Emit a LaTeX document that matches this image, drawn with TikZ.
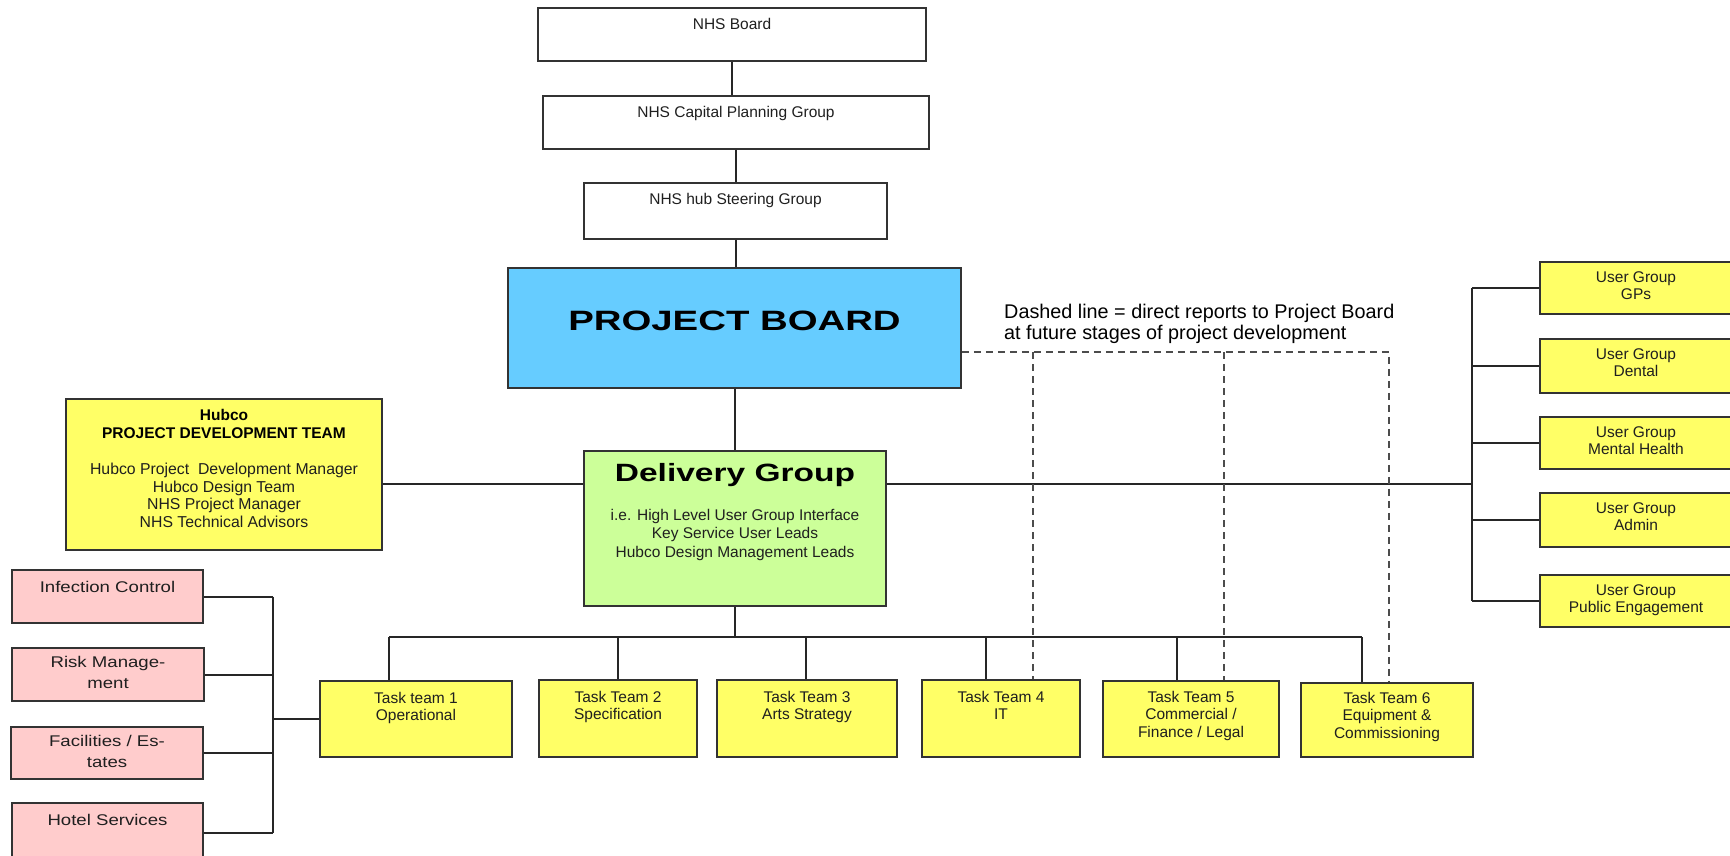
\documentclass[tikz,border=0pt]{standalone}
\usepackage{fontspec}
\setmainfont{Liberation Sans}
\usetikzlibrary{calc}
\definecolor{pbblue}{HTML}{66CCFF}
\definecolor{dggreen}{HTML}{CCFF99}
\definecolor{tyellow}{HTML}{FFFF66}
\definecolor{pinkbox}{HTML}{FFCCCC}
\definecolor{edgec}{HTML}{333333}
\newcommand{\orgbox}[6]{\node[#1, minimum width={#4-#2}, minimum height={#5-#3}] (#6) at ({(#2+#4)/2},{(#3+#5)/2}) {};}
\begin{document}
\begin{tikzpicture}[x=1pt,y=-1pt,
  box/.style={draw=edgec, line width=1.7pt, inner sep=0pt},
  wbox/.style={box, fill=white},
  ybox/.style={box, fill=tyellow},
  pbox/.style={box, fill=pinkbox},
  txt/.style={font=\fontsize{15.5}{17.5}\selectfont, align=center, inner sep=0pt, anchor=north, text=black!88},
  ptxt/.style={txt, font=\fontsize{15.5}{20.5}\selectfont},
  conn/.style={line width=2pt, draw=black!85},
  dashln/.style={line width=1.7pt, draw=black!70, dash pattern=on 7pt off 5pt}
]
\clip (0,0) rectangle (1730,856);
\fill[white] (0,0) rectangle (1730,856);

% boxes
\orgbox{wbox}{538}{8}{926}{61}{nhsb}
\orgbox{wbox}{543}{96}{929}{149}{cpg}
\orgbox{wbox}{584}{183}{887}{239}{hub}
\orgbox{box,fill=pbblue}{508}{268}{961}{388}{pb}
\orgbox{box,fill=dggreen}{584}{451}{886}{606}{dg}
\orgbox{ybox}{66}{399}{382}{550}{hubco}
\orgbox{pbox}{12}{570}{203}{623}{ic}
\orgbox{pbox}{12}{648}{204}{701}{rm}
\orgbox{pbox}{11}{727}{203}{779}{fe}
\orgbox{pbox}{12}{803}{203}{863}{hs}
\orgbox{ybox}{320}{681}{512}{757}{tt1}
\orgbox{ybox}{539}{680}{697}{757}{tt2}
\orgbox{ybox}{717}{680}{897}{757}{tt3}
\orgbox{ybox}{922}{680}{1080}{757}{tt4}
\orgbox{ybox}{1103}{681}{1279}{757}{tt5}
\orgbox{ybox}{1301}{683}{1473}{757}{tt6}
\orgbox{ybox}{1540}{262}{1732}{314}{ug1}
\orgbox{ybox}{1540}{339}{1732}{393}{ug2}
\orgbox{ybox}{1540}{417}{1732}{469}{ug3}
\orgbox{ybox}{1540}{493}{1732}{547}{ug4}
\orgbox{ybox}{1540}{575}{1732}{627}{ug5}

% texts
\node[txt] (nhsbt) at ([yshift=-10.5pt]nhsb.north) {NHS Board};
\node[txt] (cpgt) at ([yshift=-10.5pt]cpg.north) {NHS Capital Planning Group};
\node[txt] (hubt) at ([yshift=-10.5pt]hub.north) {NHS hub Steering Group};
\node[inner sep=0pt, anchor=center, text=black] (pbt) at ([yshift=-54pt]pb.north)
  {\scalebox{1.37}[1]{\fontsize{28}{32}\selectfont\bfseries PROJECT BOARD}};
\node[inner sep=0pt, anchor=north, text=black] (dgt) at ([yshift=-13pt]dg.north)
  {\scalebox{1.34}[1]{\fontsize{25}{30}\selectfont\bfseries Delivery Group}};
\node[txt, font=\fontsize{15.5}{18.5}\selectfont] (dgs) at ([yshift=-58.5pt]dg.north)
  {i.e. High Level User Group Interface\\Key Service User Leads\\Hubco Design Management Leads};
\node[txt, font=\fontsize{15.5}{18}\selectfont\bfseries, text=black] (hubcot) at ([yshift=-10.5pt]hubco.north)
  {Hubco\\PROJECT DEVELOPMENT TEAM};
\node[txt, font=\fontsize{15.8}{17.8}\selectfont] (hubcob) at ([yshift=-64.5pt]hubco.north)
  {Hubco Project\ \ Development Manager\\Hubco Design Team\\NHS Project Manager\\NHS Technical Advisors};
\node[ptxt] (ict) at ([yshift=-11.5pt]ic.north) {\scalebox{1.2}[1]{Infection Control}};
\node[ptxt] (rmt) at ([yshift=-9pt]rm.north) {\scalebox{1.2}[1]{Risk Manage-}\\\scalebox{1.2}[1]{ment}};
\node[ptxt] (fet) at ([yshift=-9pt]fe.north) {\scalebox{1.2}[1]{Facilities / Es-}\\\scalebox{1.2}[1]{tates}};
\node[ptxt] (hst) at ([yshift=-11.5pt]hs.north) {\scalebox{1.2}[1]{Hotel Services}};
\node[txt] (tt1t) at ([yshift=-11.5pt]tt1.north) {Task team 1\\Operational};
\node[txt] (tt2t) at ([yshift=-11.5pt]tt2.north) {Task Team 2\\Specification};
\node[txt] (tt3t) at ([yshift=-11.5pt]tt3.north) {Task Team 3\\Arts Strategy};
\node[txt] (tt4t) at ([yshift=-11.5pt]tt4.north) {Task Team 4\\IT};
\node[txt] (tt5t) at ([yshift=-10.5pt]tt5.north) {Task Team 5\\Commercial /\\Finance / Legal};
\node[txt] (tt6t) at ([yshift=-9.5pt]tt6.north) {Task Team 6\\Equipment \&\\Commissioning};
\node[txt, font=\fontsize{15.5}{17}\selectfont] (ug1t) at ([yshift=-10.5pt]ug1.north) {User Group\\GPs};
\node[txt, font=\fontsize{15.5}{17}\selectfont] (ug2t) at ([yshift=-10.5pt]ug2.north) {User Group\\Dental};
\node[txt, font=\fontsize{15.5}{17}\selectfont] (ug3t) at ([yshift=-10.5pt]ug3.north) {User Group\\Mental Health};
\node[txt, font=\fontsize{15.5}{17}\selectfont] (ug4t) at ([yshift=-10.5pt]ug4.north) {User Group\\Admin};
\node[txt, font=\fontsize{15.5}{17}\selectfont] (ug5t) at ([yshift=-10.5pt]ug5.north) {User Group\\Public Engagement};
\node[inner sep=0pt, anchor=north west, align=left, font=\fontsize{19.8}{21.5}\selectfont, text=black] (note) at (1004,303.5)
  {Dashed line = direct reports to Project Board\\at future stages of project development};

% solid connectors
\draw[conn] (nhsb.south) -- (nhsb.south |- cpg.north);
\draw[conn] (cpg.south) -- (cpg.south |- hub.north);
\draw[conn] (hub.south) -- (hub.south |- pb.north);
\draw[conn] (pb.south) -- (pb.south |- dg.north);
\coordinate (bar) at (0,637);
\draw[conn] (dg.south) -- (dg.south |- bar);
\coordinate (d1) at (389,637);
\coordinate (d2) at (618,637);
\coordinate (d3) at (806,637);
\coordinate (d4) at (986,637);
\coordinate (d5) at (1177,637);
\coordinate (d6) at (1362,637);
\draw[conn] (d1) -- (d6);
\draw[conn] (d1) -- (d1 |- tt1.north);
\draw[conn] (d2) -- (d2 |- tt2.north);
\draw[conn] (d3) -- (d3 |- tt3.north);
\draw[conn] (d4) -- (d4 |- tt4.north);
\draw[conn] (d5) -- (d5 |- tt5.north);
\draw[conn] (d6) -- (d6 |- tt6.north);

\coordinate (lvl) at (0,484);
\draw[conn] (hubco.east |- lvl) -- (dg.west |- lvl);
\coordinate (rb) at (1472,484);
\draw[conn] (dg.east |- lvl) -- (rb);
\draw[conn] (rb |- ug1.west) -- (rb |- ug5.west);
\draw[conn] (rb |- ug1.west) -- (ug1.west);
\draw[conn] (rb |- ug2.west) -- (ug2.west);
\draw[conn] (rb |- ug3.west) -- (ug3.west);
\draw[conn] (rb |- ug4.west) -- (ug4.west);
\draw[conn] (rb |- ug5.west) -- (ug5.west);

\coordinate (lb) at (273,0);
\draw[conn] (lb |- ic.east) -- (lb |- hs.east);
\draw[conn] (ic.east) -- (lb |- ic.east);
\draw[conn] (rm.east) -- (lb |- rm.east);
\draw[conn] (fe.east) -- (lb |- fe.east);
\draw[conn] (hs.east) -- (lb |- hs.east);
\draw[conn] (lb |- tt1.west) -- (tt1.west);

% dashed connectors
\coordinate (dl) at (0,352);
\coordinate (e4) at (1033,0);
\coordinate (e5) at (1224,0);
\coordinate (e6) at (1389,0);
\draw[dashln] (pb.east |- dl) -- (e6 |- dl) -- (e6 |- tt6.north);
\draw[dashln] (e4 |- dl) -- (e4 |- tt4.north);
\draw[dashln] (e5 |- dl) -- (e5 |- tt5.north);
\end{tikzpicture}
\end{document}
